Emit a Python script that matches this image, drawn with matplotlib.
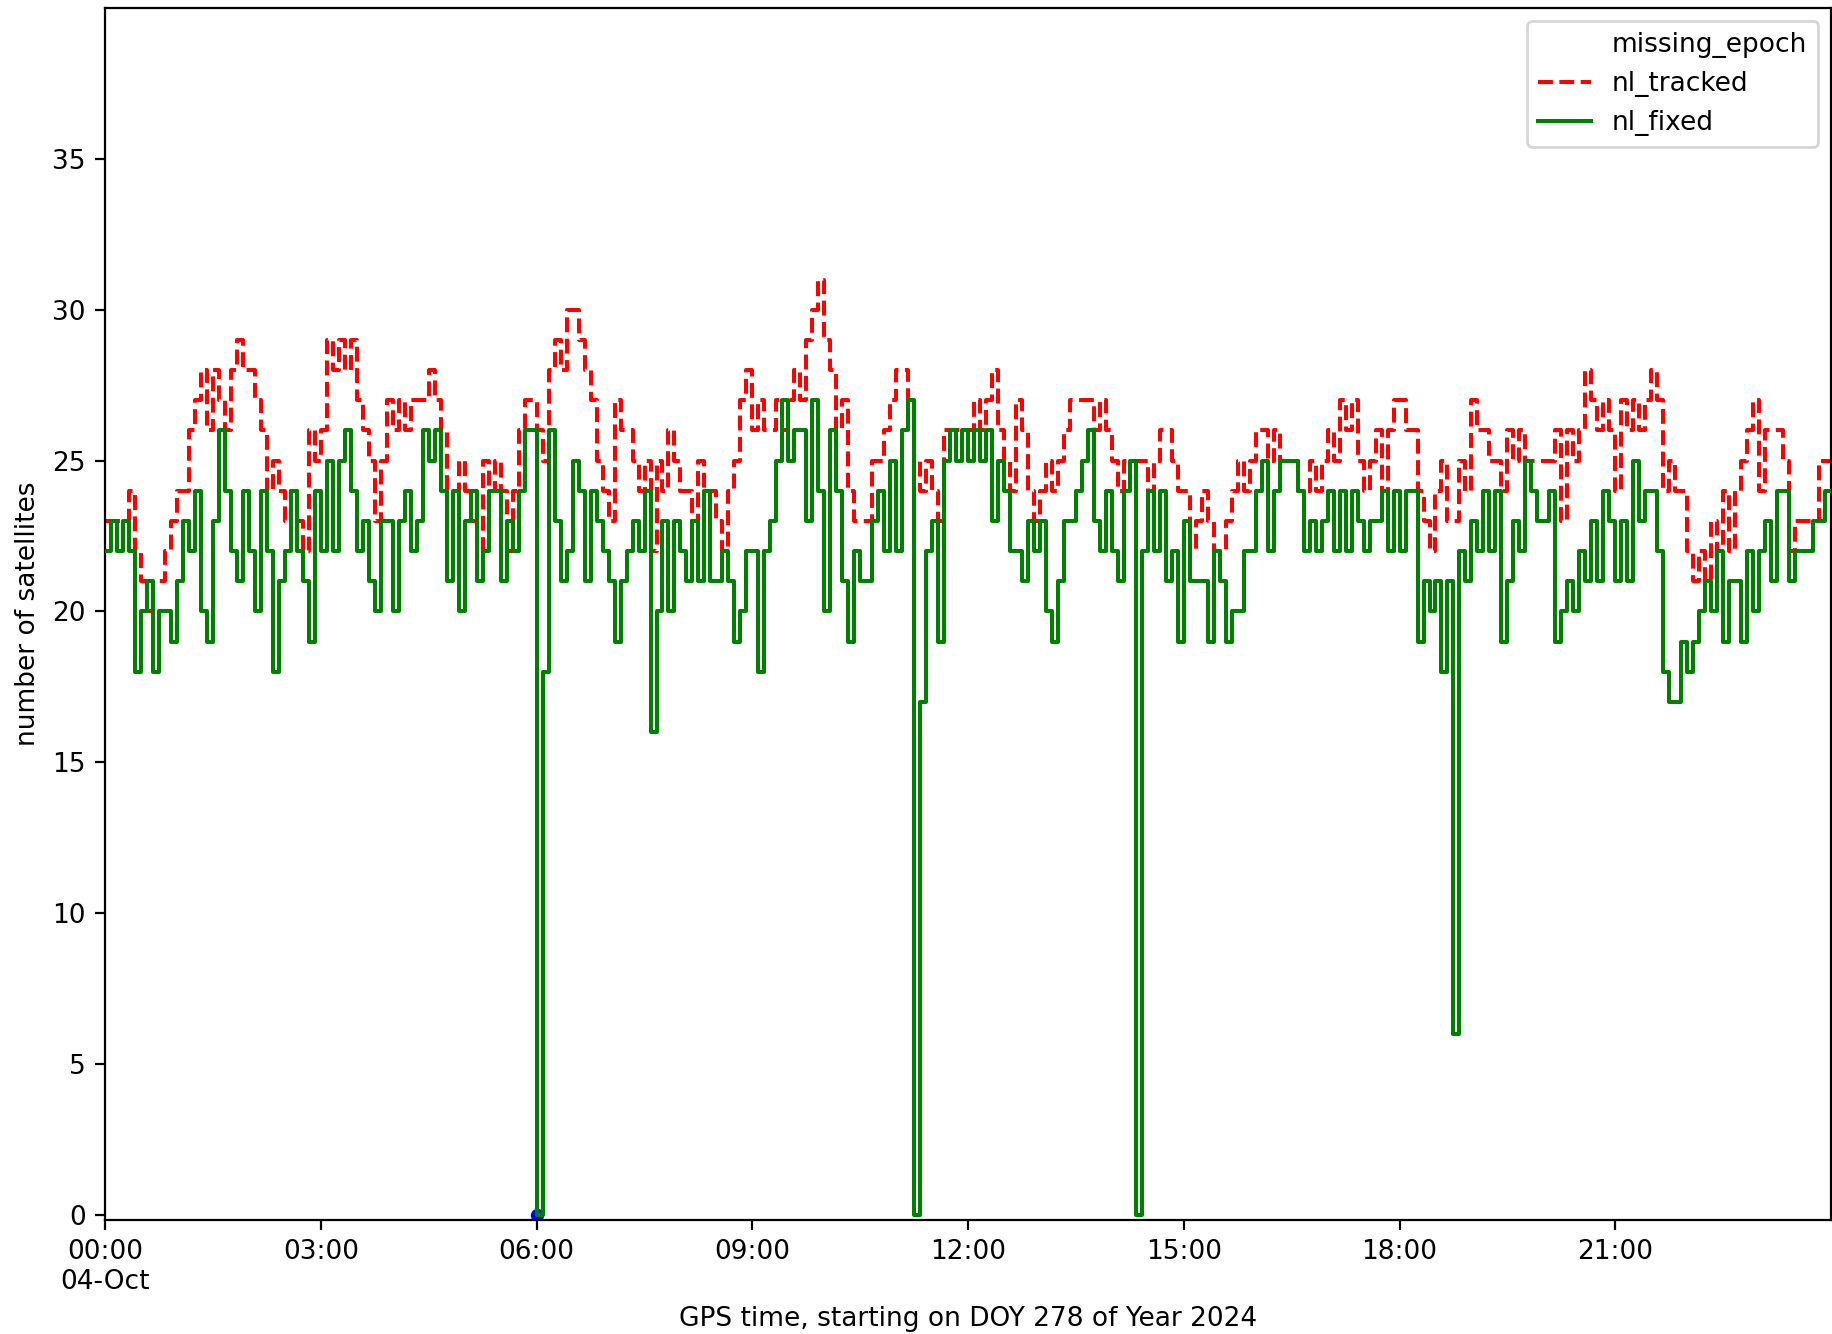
import numpy as np
import matplotlib
matplotlib.use("Agg")
import matplotlib.pyplot as plt
from matplotlib.lines import Line2D

# satellite counts, one value per 5-minute step, rows = hours 00..23
EPOCH_MIN = 5
nl_tracked = [
    23, 23, 23, 23, 24, 22, 21, 20, 21, 21, 22, 23,
    24, 24, 26, 27, 28, 26, 28, 27, 26, 28, 29, 28,
    28, 27, 26, 24, 25, 24, 23, 24, 23, 22, 26, 25,
    26, 29, 28, 29, 28, 29, 27, 26, 25, 23, 25, 27,
    26, 27, 26, 27, 27, 27, 28, 27, 26, 24, 24, 25,
    24, 23, 22, 25, 24, 25, 24, 22, 24, 26, 27, 27,
    26, 25, 28, 29, 28, 30, 30, 29, 28, 27, 25, 24,
    23, 27, 26, 26, 25, 24, 25, 22, 25, 24, 26, 25,
    24, 24, 23, 25, 24, 24, 23, 22, 24, 25, 27, 28,
    26, 27, 26, 26, 27, 26, 27, 28, 27, 29, 30, 31,
    29, 28, 26, 27, 24, 23, 23, 23, 25, 25, 26, 27,
    28, 28, 27, 25, 24, 25, 24, 23, 26, 26, 26, 26,
    26, 27, 26, 27, 28, 26, 25, 24, 27, 26, 24, 23,
    24, 25, 24, 25, 26, 27, 27, 27, 27, 26, 27, 26,
    25, 24, 25, 25, 25, 25, 24, 25, 26, 26, 25, 24,
    24, 22, 23, 24, 23, 22, 22, 23, 24, 25, 24, 25,
    26, 26, 25, 26, 25, 25, 25, 24, 24, 25, 24, 25,
    26, 25, 27, 26, 27, 25, 24, 25, 26, 24, 26, 27,
    27, 26, 26, 24, 23, 22, 24, 25, 23, 23, 25, 24,
    27, 26, 26, 25, 25, 24, 26, 25, 26, 25, 25, 25,
    25, 25, 26, 23, 26, 25, 26, 28, 27, 26, 27, 26,
    24, 27, 26, 27, 26, 27, 28, 27, 24, 25, 24, 24,
    22, 21, 22, 21, 23, 22, 24, 22, 24, 25, 26, 27,
    24, 26, 26, 26, 25, 22, 23, 23, 23, 23, 25, 25,
]
nl_fixed = [
    22, 23, 22, 23, 22, 18, 20, 21, 18, 20, 20, 19,
    21, 23, 22, 24, 20, 19, 23, 26, 24, 22, 21, 24,
    22, 20, 24, 22, 18, 21, 22, 24, 22, 21, 19, 24,
    22, 25, 22, 25, 26, 24, 22, 23, 21, 20, 23, 23,
    20, 23, 24, 22, 23, 26, 25, 26, 24, 21, 24, 20,
    23, 24, 21, 22, 24, 24, 21, 23, 22, 24, 26, 26,
    0, 18, 26, 23, 21, 22, 25, 24, 21, 24, 23, 22,
    21, 19, 21, 22, 23, 22, 24, 16, 20, 23, 20, 23,
    22, 21, 23, 21, 24, 21, 21, 22, 21, 19, 20, 22,
    22, 18, 22, 23, 25, 27, 25, 26, 26, 23, 27, 24,
    20, 26, 24, 21, 19, 22, 21, 21, 23, 24, 22, 25,
    22, 26, 27, 0, 17, 22, 23, 19, 25, 26, 25, 26,
    25, 26, 25, 26, 23, 25, 24, 22, 22, 21, 23, 22,
    23, 20, 19, 21, 23, 23, 24, 25, 26, 23, 22, 24,
    22, 21, 24, 25, 0, 22, 24, 22, 24, 21, 22, 19,
    23, 21, 21, 21, 19, 22, 21, 19, 20, 20, 22, 22,
    24, 25, 22, 24, 25, 25, 25, 24, 22, 23, 22, 23,
    24, 22, 24, 22, 24, 23, 22, 23, 23, 24, 22, 24,
    22, 24, 24, 19, 21, 20, 21, 18, 21, 6, 22, 21,
    23, 22, 24, 22, 24, 19, 21, 23, 22, 25, 24, 23,
    23, 24, 19, 20, 21, 20, 22, 21, 23, 21, 24, 23,
    21, 23, 21, 25, 23, 24, 24, 22, 18, 17, 17, 19,
    18, 19, 20, 21, 20, 22, 19, 21, 21, 19, 22, 20,
    22, 23, 21, 24, 24, 21, 22, 22, 22, 23, 23, 24,
]
missing_hour = [6.0]
missing_val = [0]

tick_hours = [0, 3, 6, 9, 12, 15, 18, 21]
tick_labels = ["00:00\n04-Oct", "03:00", "06:00", "09:00", "12:00", "15:00", "18:00", "21:00"]

plt.rcParams["font.size"] = 9.5

# hours since 00:00 for each step edge
t = np.arange(len(nl_fixed) + 1) * EPOCH_MIN / 60.0
tracked = np.append(nl_tracked, nl_tracked[-1])
fixed = np.append(nl_fixed, nl_fixed[-1])

fig = plt.figure(figsize=(9.165, 6.67), dpi=200)
ax = fig.add_axes([0.0574, 0.0855, 0.9415, 0.9085])

ax.plot(missing_hour, missing_val, "o", color="blue", ms=3.8, zorder=1)
ax.plot(t, tracked, "--", color="red", lw=1.45, drawstyle="steps-post", label="nl_tracked", zorder=2)
ax.plot(t, fixed, "-", color="green", lw=1.45, drawstyle="steps-post", label="nl_fixed", zorder=3)

ax.set_xlim(0, 24)
ax.set_ylim(-0.17, 40)
ax.set_yticks([0, 5, 10, 15, 20, 25, 30, 35])
ax.set_xticks(tick_hours)
ax.set_xticklabels(tick_labels)
ax.set_xlabel("GPS time, starting on DOY 278 of Year 2024")
ax.set_ylabel("number of satellites")

blank = Line2D([], [], linestyle="none", label="missing_epoch")
h, l = ax.get_legend_handles_labels()
ax.legend([blank] + h, ["missing_epoch"] + l, loc="upper right")

plt.savefig("out.png", dpi=200)
